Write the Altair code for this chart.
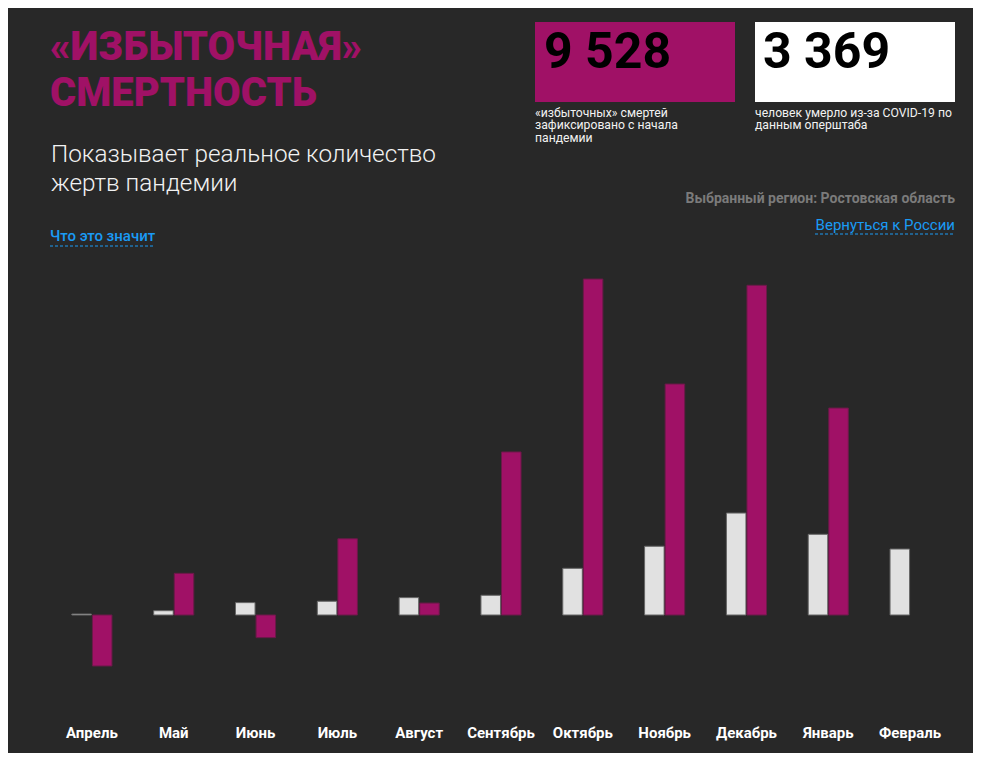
import altair as alt
import pandas as pd

# ---- data ----
months = ["Апрель", "Май", "Июнь", "Июль", "Август", "Сентябрь",
          "Октябрь", "Ноябрь", "Декабрь", "Январь", "Февраль"]
covid_deaths = [7, 31, 89, 99, 125, 142, 336, 495, 734, 581, 475]
excess_deaths = [-367, 300, -163, 549, 86, 1174, 2419, 1663, 2374, 1490, None]
series_names = ["COVID-19", "Избыточная"]

total_excess = "9 528"
total_covid = "3 369"

title_text = "«ИЗБЫТОЧНАЯ»\nСМЕРТНОСТЬ"
subtitle_text = "Показывает реальное количество\nжертв пандемии"
link_left = "Что это значит"
caption_excess = "«избыточных» смертей\nзафиксировано с начала\nпандемии"
caption_covid = "человек умерло из-за COVID-19 по\nданным оперштаба"
region_text = "Выбранный регион: Ростовская область"
link_right = "Вернуться к России"

BG = "#282828"
MAGENTA = "#a01166"
LIGHT = "#e1e1e1"
BLUE = "#1a9bf5"
FONT = "Roboto"

rows = []
for m, c, e in zip(months, covid_deaths, excess_deaths):
    rows.append({"month": m, "series": series_names[0], "value": c})
    if e is not None:
        rows.append({"month": m, "series": series_names[1], "value": e})
df = pd.DataFrame(rows)

bars = alt.Chart(df).mark_bar(strokeWidth=1).encode(
    x=alt.X("month:N", sort=months,
            scale=alt.Scale(paddingInner=0.51, paddingOuter=0.255),
            axis=alt.Axis(title=None, domain=False, ticks=False, tickSize=0,
                          labelAngle=0, labelFont=FONT, labelFontSize=15,
                          labelFontWeight="bold", labelColor="#ffffff",
                          labelPadding=37, labelBaseline="alphabetic")),
    xOffset=alt.XOffset("series:N", sort=series_names,
                        scale=alt.Scale(paddingInner=0.05)),
    y=alt.Y("value:Q", scale=alt.Scale(domain=[-612, 2484], nice=False, zero=False),
            axis=None),
    color=alt.Color("series:N", scale=alt.Scale(domain=series_names, range=[LIGHT, MAGENTA]),
                    legend=None),
    stroke=alt.Stroke("series:N", scale=alt.Scale(domain=series_names, range=["#666666", "#6a1a48"]),
                      legend=None),
)


def txt(text, x, y, size, color, weight="normal", align="left", line_height=None):
    kw = dict(align=align, baseline="alphabetic", font=FONT, fontSize=size,
              fontWeight=weight, color=color, lineBreak="\n")
    if line_height is not None:
        kw["lineHeight"] = line_height
    return alt.Chart(pd.DataFrame({"t": [text]})).mark_text(**kw).encode(
        text="t:N", x=alt.value(x), y=alt.value(y))


def rect(x, x2, y, y2, color):
    return alt.Chart(pd.DataFrame({"a": [0]})).mark_rect(color=color).encode(
        x=alt.value(x), x2=alt.value(x2), y=alt.value(y), y2=alt.value(y2))


def dashed(x, x2, y):
    return alt.Chart(pd.DataFrame({"a": [0]})).mark_rule(
        color=BLUE, strokeWidth=1, strokeDash=[3, 2]).encode(
        x=alt.value(x), x2=alt.value(x2), y=alt.value(y))


layers = [
    bars,
    txt(title_text, -1, -210, 40, MAGENTA, weight=900, line_height=46),
    txt(subtitle_text, 0, -108, 24.3, "#f2f2f2", weight=300, line_height=29),
    txt(link_left, -1, -29, 15, BLUE, weight=500),
    dashed(-1, 103, -24),
    rect(484, 684, -248, -168, MAGENTA),
    rect(704, 904, -248, -168, "#ffffff"),
    txt(total_excess, 493, -202, 50, "#000000", weight="bold"),
    txt(total_covid, 712, -202, 50, "#000000", weight="bold"),
    txt(caption_excess, 484, -153, 12.2, "#f2f2f2", line_height=12.3),
    txt(caption_covid, 704, -153, 12.2, "#f2f2f2", line_height=12.3),
    txt(region_text, 904, -67, 14, "#7b7b7b", weight="bold", align="right"),
    txt(link_right, 904, -40, 15, BLUE, align="right"),
    dashed(764, 904, -36),
]

chart = alt.layer(*layers).properties(
    width=900, height=430,
    autosize=alt.AutoSizeParams(type="none"),
    padding={"left": 43, "top": 262, "right": 22, "bottom": 53},
    background=BG,
).configure_view(stroke=None)

chart.save("out.html", embed_options={"renderer": "svg", "actions": False})
